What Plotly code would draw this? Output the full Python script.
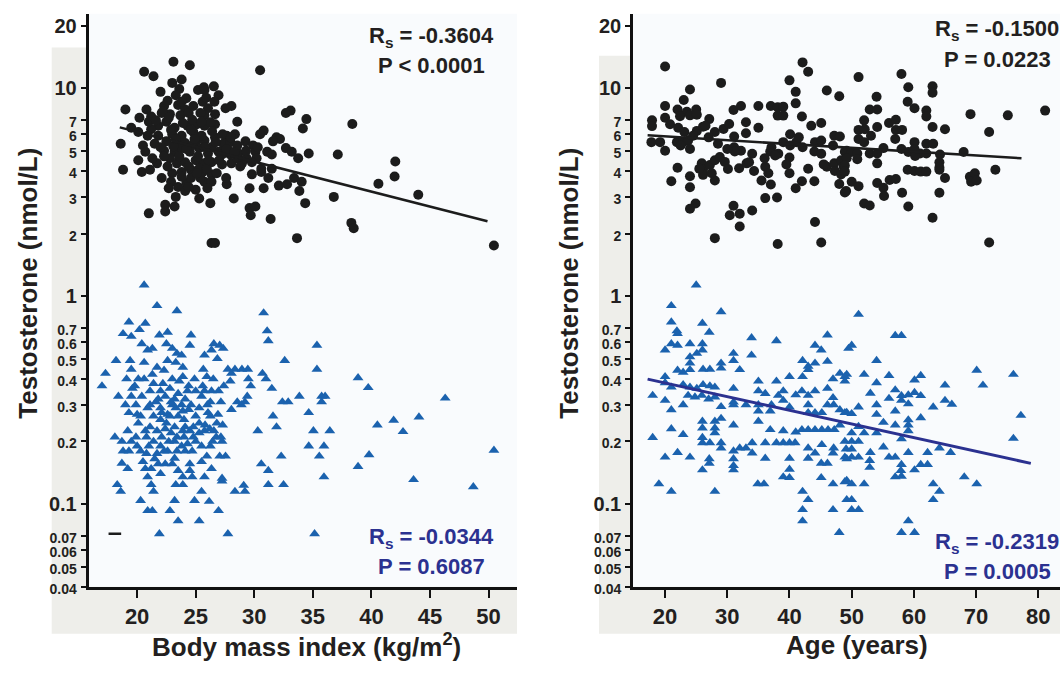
import plotly.graph_objects as go

# ---------------- data ----------------
# Left panel: BMI (kg/m2) vs testosterone (nmol/L); circles = upper group, triangles = lower group
bmi_circle_pts = [
    (23.1,13.4),(24.5,12.9),(20.6,12.0),(21.4,11.4),(30.5,12.2),(23.0,10.6),(23.8,11.0),(23.6,9.9),(25.2,9.8),(25.7,10.1),
    (25.75,9.8),(26.55,10.2),(26.95,9.25),(23.3,9.25),(24.2,8.95),(25.6,8.6),(22.3,8.2),(23.5,8.3),(24.1,7.9),(20.8,7.9),
    (19.0,7.9),(28.05,8.2),(27.55,8.0),(26.05,8.0),(33.1,7.8),(32.7,7.6),(34.45,7.1),(20.2,7.2),(21.2,7.3),(22.1,7.6),
    (22.8,7.5),(23.7,7.4),(24.4,7.6),(25.75,7.4),(26.65,7.5),(28.55,6.9),(22.5,6.9),(21.8,6.6),(19.5,6.45),(21.2,6.35),
    (23.2,6.45),(24.3,6.6),(25.1,6.7),(25.75,6.6),(26.65,6.7),(34.15,6.4),(30.8,6.25),(30.5,6.0),(31.9,5.8),(32.2,5.7),
    (18.6,5.4),(20.9,5.9),(21.8,5.9),(22.5,5.55),(23.4,5.6),(24.1,5.45),(25.0,5.55),(25.75,5.6),(26.65,5.8),(27.65,5.9),
    (28.35,6.0),(29.25,5.55),(29.9,5.3),(30.1,4.95),(31.1,4.95),(31.5,4.8),(32.7,5.15),(33.2,4.95),(33.75,4.6),(34.65,4.85),
    (20.7,4.95),(22.3,5.0),(23.2,4.95),(23.8,5.15),(24.5,4.95),(25.3,5.15),(26.05,4.85),(26.95,4.95),(27.85,5.0),(28.65,4.85),
    (29.35,4.6),(18.8,4.05),(20.4,3.95),(21.1,4.05),(21.7,4.35),(22.8,4.6),(23.4,4.35),(24.1,4.4),(25.0,4.5),(25.7,4.35),
    (26.35,4.4),(27.25,4.3),(28.05,4.35),(28.95,4.35),(29.8,3.85),(30.6,3.95),(31.5,4.1),(31.2,3.7),(32.1,3.4),(32.8,3.45),
    (33.4,3.7),(34.05,3.55),(34.35,2.8),(33.85,3.2),(23.0,3.9),(23.8,3.95),(24.6,4.05),(25.6,3.95),(26.35,3.85),(22.9,3.55),
    (23.5,3.35),(24.2,3.5),(25.0,3.25),(25.75,3.55),(26.35,3.55),(27.65,3.45),(29.6,3.3),(30.8,3.3),(24.1,3.2),(25.3,2.95),
    (26.25,2.8),(28.25,2.95),(22.4,2.75),(23.2,2.7),(22.4,2.55),(21.0,2.5),(29.6,2.65),(30.1,2.7),(29.7,2.45),(31.4,2.35),
    (26.35,1.8),(26.65,1.8),(33.65,1.9),
    (22.2,7.7),(22.7,7.2),(24.7,7.05),(25.4,7.6),(26.25,6.85),(24.8,6.15),(23.0,6.0),(23.8,5.9),(25.5,5.9),(27.35,5.4),
    (27.95,5.5),(28.55,5.3),(23.1,5.25),(24.7,5.3),(26.35,5.2),(27.25,4.8),(25.3,4.1),(25.95,4.1),(23.8,3.75),(24.6,3.7),
    (25.4,3.7),(21.5,5.4),(20.5,5.3),(20.1,6.15),(27.95,4.8),(28.55,4.6),(30.2,4.6),(30.3,5.2),(31.6,5.55),
    (37.13,4.80),(36.79,3.00),(38.29,2.25),(38.49,2.12),(40.6,3.47),(42.04,4.44),(41.98,3.76),(44.0,3.07),(50.46,1.75),(38.37,6.72),
    (21.0,6.9),(21.6,7.0),(22.0,5.2),(22.3,4.7),(22.6,4.2),(22.9,6.3),(23.3,5.7),(23.6,4.7),(23.9,6.8),(24.2,5.1),
    (24.4,4.2),(24.6,6.3),(24.9,5.7),(25.2,4.7),(25.5,6.9),(25.8,5.2),(26.1,4.5),(26.4,6.2),(26.7,5.5),(27.0,4.5),
    (27.3,6.0),(27.6,5.1),(28.0,5.8),(28.3,4.9),(22.1,3.7),(22.7,3.3),(23.3,3.0),(24.4,3.35),(25.1,3.9),(26.0,3.3),
    (26.8,3.9),(27.6,3.7),(21.3,4.6),(20.1,4.5),(23.8,8.6),(24.8,8.2),(22.6,8.7),(25.9,9.0),(26.6,8.6),(22.0,9.6),
    (28.8,4.2),(29.3,5.0),(29.8,4.4),(30.6,4.1),
]
bmi_triangle_pts = [
    (20.6,1.13),(21.7,.90),(23.4,.85),(30.8,.83),(19.3,.75),(20.7,.74),(20.2,.69),(18.8,.66),(19.5,.64),(21.9,.65),
    (22.6,.67),(24.6,.65),(24.5,.58),(22.5,.59),(20.4,.59),(20.9,.55),(21.3,.56),(23.0,.56),(23.4,.53),(23.8,.52),
    (25.75,.52),(26.55,.59),(27.05,.58),(26.35,.55),(27.35,.56),(26.85,.50),(31.1,.68),(31.2,.61),(35.35,.58),(32.6,.49),
    (35.35,.445),(18.2,.49),(19.4,.49),(20.6,.48),(21.7,.455),(22.6,.49),(23.3,.48),(23.9,.455),(25.65,.445),(25.95,.41),
    (27.75,.445),(28.35,.445),(28.95,.445),(29.45,.445),(28.05,.425),(29.5,.40),(29.7,.37),(27.95,.39),(30.7,.425),(31.0,.40),
    (31.5,.36),(17.3,.425),(17.0,.37),(19.1,.40),(20.1,.40),(20.6,.40),(19.5,.445),(21.4,.38),(22.2,.38),(23.0,.40),
    (23.9,.41),(24.4,.37),(25.0,.35),(25.75,.35),(26.35,.35),(26.95,.35),(25.5,.33),(29.4,.33),(29.2,.31),(28.9,.30),
    (28.05,.285),(28.55,.31),(27.15,.31),(26.25,.31),(32.4,.31),(32.9,.31),(33.85,.33),(35.75,.33),(36.05,.33),(35.75,.31),
    (34.65,.275),(18.4,.33),(19.5,.33),(19.9,.30),(19.3,.275),(20.3,.265),(21.1,.30),(21.8,.32),(22.4,.33),(23.2,.32),
    (23.8,.30),(23.0,.30),(21.4,.265),(22.1,.275),(22.8,.265),(23.5,.265),(24.4,.285),(25.0,.265),(24.0,.255),(26.05,.275),
    (26.25,.265),(25.3,.245),(31.6,.265),(31.9,.235),(30.3,.225),(20.1,.245),(19.2,.225),(18.1,.21),(18.7,.20),(19.5,.20),
    (20.7,.225),(21.1,.235),(21.7,.225),(20.8,.21),(21.4,.20),(22.1,.21),(22.7,.20),(23.2,.20),(24.0,.21),(24.5,.225),
    (24.8,.235),(25.75,.225),(26.55,.225),(26.75,.21),(27.15,.21),(26.45,.20),(27.25,.20),(26.25,.19),(35.05,.225),(36.45,.225),
    (34.65,.19),(35.95,.19),(18.8,.18),(19.3,.18),(20.3,.18),(20.8,.175),(21.7,.175),(22.6,.18),(23.2,.166),(23.4,.18),
    (24.1,.18),(24.7,.18),(25.95,.17),(27.05,.17),(27.55,.17),(32.3,.17),(35.55,.17),(18.7,.157),(19.2,.148),(20.7,.148),
    (21.8,.156),(22.4,.156),(23.0,.156),(24.5,.156),(24.5,.145),(26.35,.148),(30.6,.156),(31.2,.145),(20.9,.135),(23.9,.135),
    (24.7,.135),(25.75,.135),(27.25,.133),(18.3,.124),(18.6,.115),(21.2,.124),(21.4,.115),(23.3,.124),(23.9,.124),(25.5,.115),
    (27.25,.129),(29.1,.123),(28.35,.115),(29.2,.115),(31.2,.124),(32.5,.124),(35.95,.135),(20.3,.104),(20.9,.093),(21.3,.093),
    (23.2,.104),(22.8,.093),(24.9,.104),(26.15,.103),(26.95,.093),(23.5,.083),(25.3,.083),(21.9,.072),(27.75,.072),(35.15,.072),
    (19.8,.37),(21.1,.35),(22.0,.35),(22.8,.36),(23.5,.34),(24.1,.32),(22.0,.255),(22.5,.245),(23.2,.235),(24.1,.235),
    (19.9,.21),(25.5,.19),(23.8,.19),(25.0,.20),(22.3,.18),(21.2,.148),
    (38.86,.405),(39.73,.363),(40.51,.24),(41.9,.253),(42.7,.223),(44.06,.262),(46.3,.323),(39.8,.1725),(38.86,.1515),(43.6,.131),
    (48.7,.121),(50.46,.1815),
    (19.0,.30),(19.6,.36),(20.0,.27),(20.4,.33),(20.9,.29),(21.3,.42),(21.6,.31),(22.0,.29),(22.3,.44),(22.6,.27),
    (22.9,.31),(23.3,.29),(23.6,.39),(23.9,.28),(24.3,.35),(24.6,.30),(24.9,.40),(25.3,.29),(25.6,.37),(26.0,.30),
    (26.5,.40),(26.9,.27),(27.4,.37),(20.0,.19),(20.5,.16),(21.0,.19),(21.5,.165),(22.0,.19),(22.4,.23),(22.9,.22),
    (23.4,.21),(23.9,.225),(24.3,.195),(24.8,.21),(25.3,.22),(25.8,.24),(26.2,.23),(26.8,.245),(27.3,.24),(22.0,.14),
    (23.5,.145),(25.5,.16),
]
# Right panel: age (years) vs testosterone (nmol/L)
age_circle_pts = [
    (20.0,12.7),(29.0,10.6),(24.0,9.85),(23.0,8.77),(20.0,8.2),(22.0,7.9),(23.5,7.7),(25.0,7.9),(22.4,7.33),(24.0,7.4),
    (25.1,7.45),(20.0,7.2),(17.9,7.0),(17.9,6.57),(20.8,6.7),(22.1,6.45),(23.1,6.16),(25.1,6.23),(26.1,6.53),(27.1,7.1),
    (28.0,6.16),(29.4,6.37),(30.3,6.73),(31.0,7.85),(32.2,8.2),(33.0,6.86),(33.0,6.07),(35.0,8.2),(35.0,6.45),(37.0,8.2),
    (38.1,8.1),(39.0,8.15),(38.1,7.38),(39.0,7.38),(40.0,10.9),(41.0,9.6),(42.1,13.3),(43.0,12.0),(41.0,8.45),(42.0,7.3),
    (45.1,6.8),(46.0,9.75),(48.0,9.15),(17.8,5.5),(19.2,5.5),(20.0,5.0),(21.9,5.5),(22.9,5.5),(23.7,5.6),(24.0,5.1),
    (27.0,5.8),(31.1,5.85),(31.1,5.2),(32.2,5.0),(37.1,5.2),(38.2,4.84),(39.0,5.5),(40.1,6.0),(40.1,5.3),(41.1,5.5),
    (42.1,5.2),(40.0,4.64),(44.1,5.5),(45.1,5.6),(44.0,4.96),(45.1,4.84),(47.2,5.9),(48.1,5.85),(49.2,5.0),(22.0,4.14),
    (21.0,3.57),(24.0,3.77),(24.0,3.34),(25.9,4.35),(26.1,4.05),(27.2,4.27),(26.1,3.83),(28.0,4.5),(28.8,4.67),(29.6,4.42),
    (30.1,4.09),(28.0,3.6),(31.2,4.96),(31.9,4.12),(33.1,4.35),(34.0,4.84),(34.3,4.0),(36.1,4.19),(36.6,3.9),(37.0,3.44),
    (36.9,4.96),(37.7,4.75),(36.1,2.96),(38.0,2.98),(40.0,3.9),(42.0,3.57),(41.0,3.3),(44.0,3.57),(46.0,4.19),(47.2,4.35),
    (48.3,4.5),(48.0,3.46),(49.1,3.2),(24.9,2.79),(24.0,2.63),(31.0,2.72),(30.4,2.45),(32.0,2.49),(34.0,2.58),(32.0,2.16),
    (28.0,1.9),(38.1,1.78),(44.1,2.27),(45.1,1.81),
    (22.5,5.3),(24.5,5.9),(26.5,6.6),(28.5,5.4),(30.0,5.1),(33.5,4.4),(36.0,4.6),(39.5,4.3),(43.0,4.1),(45.5,4.3),
    (47.0,5.3),(25.5,4.1),(27.5,3.9),(35.5,3.6),(41.5,5.8),(43.5,6.6),(47.3,4.0),(48.7,4.2),(48.3,3.85),
    (51.1,11.3),(58.0,11.7),(59.1,10.1),(63.0,10.2),(63.0,9.5),(54.0,9.1),(59.0,8.6),(60.1,8.0),(52.9,7.9),(54.1,7.9),
    (62.0,7.8),(62.0,7.3),(69.1,7.5),(75.1,7.4),(81.1,7.8),(52.0,7.0),(56.0,6.8),(57.1,7.05),(51.1,6.3),(52.1,6.35),
    (54.1,6.5),(57.1,6.3),(58.1,6.3),(63.0,6.5),(65.0,6.35),(72.1,6.15),(53.1,5.9),(51.1,5.7),(52.0,5.5),(57.0,5.7),
    (60.1,5.5),(62.0,5.4),(63.1,5.4),(55.1,5.15),(58.0,5.1),(59.1,4.93),(60.1,5.1),(61.0,4.85),(62.0,4.85),(60.2,4.72),
    (64.2,4.8),(68.0,4.93),(48.9,4.95),(50.0,4.93),(50.9,4.85),(49.2,4.6),(50.9,4.55),(52.9,4.85),(54.1,4.85),(54.1,4.35),
    (64.1,4.4),(64.1,4.15),(48.9,4.25),(48.9,3.97),(59.0,4.05),(60.1,4.0),(61.1,3.97),(62.0,3.97),(64.1,4.05),(73.1,4.05),
    (65.0,3.70),(69.0,3.75),(69.8,3.9),(69.2,3.55),(70.1,3.6),(50.0,3.55),(51.1,3.38),(48.9,3.15),(56.1,3.62),(57.1,3.66),
    (54.1,3.5),(55.1,3.32),(55.2,3.03),(58.1,3.14),(64.1,3.14),(52.0,2.79),(52.9,2.73),(59.1,2.7),(63.0,2.38),(72.1,1.81),
]
age_triangle_pts = [
    (25.0,1.13),(21.0,.90),(29.0,.84),(21.0,.75),(26.0,.74),(21.9,.68),(22.0,.66),(27.1,.67),(33.9,.63),(37.9,.61),
    (46.1,.65),(21.0,.59),(22.0,.58),(20.0,.55),(24.0,.59),(26.0,.59),(26.0,.55),(25.1,.53),(24.0,.51),(31.0,.53),
    (33.9,.52),(44.1,.58),(45.1,.55),(49.5,.56),(24.0,.476),(24.0,.443),(29.0,.476),(29.0,.45),(31.0,.49),(32.0,.443),
    (26.1,.445),(27.2,.445),(22.9,.43),(22.0,.44),(20.0,.41),(42.1,.49),(43.0,.443),(43.0,.46),(44.1,.476),(46.1,.485),
    (42.1,.41),(40.0,.41),(37.9,.39),(35.0,.39),(47.0,.40),(48.1,.425),(49.2,.42),(20.0,.383),(21.0,.365),(22.9,.375),
    (24.0,.365),(25.1,.36),(26.1,.375),(27.2,.37),(28.0,.365),(31.0,.36),(18.0,.333),(20.0,.315),(21.0,.284),(22.9,.30),
    (23.7,.333),(24.8,.327),(25.9,.333),(27.0,.32),(28.0,.327),(29.0,.294),(31.0,.309),(31.0,.30),(33.0,.30),(35.0,.30),
    (35.0,.35),(36.1,.34),(37.1,.30),(36.9,.28),(38.2,.333),(39.0,.35),(39.0,.315),(40.0,.293),(41.0,.335),(42.0,.35),
    (43.0,.333),(44.1,.35),(43.0,.30),(43.0,.275),(44.1,.275),(45.2,.275),(46.1,.36),(47.0,.325),(46.1,.30),(47.1,.30),
    (48.1,.284),(49.2,.276),(18.0,.209),(21.0,.23),(22.9,.216),(20.0,.168),(22.0,.177),(24.0,.168),(26.0,.25),(26.0,.232),
    (26.0,.209),(26.0,.197),(27.2,.197),(28.0,.25),(28.0,.232),(28.0,.22),(29.0,.258),(29.0,.197),(29.0,.186),(31.0,.24),
    (31.0,.18),(31.0,.165),(31.0,.153),(31.0,.146),(32.0,.186),(33.0,.186),(34.0,.197),(34.0,.176),(35.0,.25),(35.0,.28),
    (36.1,.197),(36.1,.166),(36.9,.228),(37.9,.197),(39.0,.225),(39.0,.197),(40.0,.197),(40.9,.197),(41.0,.222),(42.0,.228),
    (43.0,.228),(44.1,.228),(45.2,.228),(46.2,.228),(47.2,.228),(48.1,.24),(43.0,.186),(43.0,.166),(44.1,.176),(45.2,.193),
    (47.1,.186),(47.0,.176),(46.1,.157),(45.1,.157),(49.2,.165),(49.1,.184),(27.1,.165),(27.1,.157),(26.0,.146),(40.0,.166),
    (40.0,.147),(39.0,.135),(40.0,.134),(45.1,.134),(47.0,.125),(49.2,.13),(19.0,.125),(21.0,.115),(28.0,.115),(34.9,.125),
    (35.9,.125),(42.1,.115),(43.0,.105),(42.1,.094),(42.1,.083),(47.0,.094),(49.2,.105),(48.0,.073),
    (51.1,.816),(57.0,.646),(58.0,.646),(50.0,.58),(54.0,.49),(48.9,.41),(48.9,.39),(52.0,.42),(56.0,.415),(61.1,.415),
    (60.1,.395),(65.0,.373),(70.1,.44),(76.0,.42),(71.1,.373),(54.0,.383),(53.0,.341),(57.0,.354),(56.0,.322),(58.0,.332),
    (59.1,.335),(60.1,.344),(61.1,.332),(59.1,.303),(58.0,.315),(65.0,.315),(66.1,.302),(63.1,.293),(51.1,.293),(54.0,.30),
    (54.0,.27),(57.0,.28),(61.1,.26),(77.2,.267),(48.9,.275),(50.0,.272),(59.1,.254),(59.1,.24),(55.1,.247),(57.0,.24),
    (51.1,.236),(52.0,.22),(54.0,.22),(59.1,.225),(58.0,.206),(50.0,.22),(48.9,.2),(50.0,.2),(51.1,.2),(50.0,.184),
    (50.0,.168),(51.1,.168),(48.9,.168),(55.1,.188),(53.0,.177),(56.0,.168),(57.0,.168),(59.1,.177),(62.2,.177),(64.1,.186),
    (65.9,.177),(76.0,.207),(52.9,.162),(52.9,.15),(58.0,.155),(57.9,.145),(58.0,.136),(57.0,.135),(61.1,.155),(62.2,.155),
    (60.1,.146),(68.1,.135),(70.1,.125),(48.9,.128),(50.0,.125),(52.0,.125),(63.1,.125),(64.1,.115),(63.1,.105),(50.0,.105),
    (50.0,.094),(51.1,.094),(59.1,.083),(58.0,.073),(60.1,.073),
]
# fitted lines (end points)
bmi_fit_circle_x = [18.52, 49.91]
bmi_fit_circle_y = [6.48, 2.29]
age_fit_circle_x = [17.19, 77.3]
age_fit_circle_y = [5.93, 4.60]
age_fit_triangle_x = [17.19, 78.8]
age_fit_triangle_y = [0.399, 0.157]
# stray dash mark in left panel
dash_x = [18.1]
dash_y = [0.072]

# statistics text
stats_left_top = ["R<sub>s</sub> = -0.3604", "P < 0.0001"]
stats_left_bottom = ["R<sub>s</sub> = -0.0344", "P = 0.6087"]
stats_right_top = ["R<sub>s</sub> = -0.1500", "P = 0.0223"]
stats_right_bottom = ["R<sub>s</sub> = -0.2319", "P = 0.0005"]

# ticks
bmi_ticks = [20, 25, 30, 35, 40, 45, 50]
age_ticks = [20, 30, 40, 50, 60, 70, 80]
y_tickvals = [0.04, 0.05, 0.06, 0.07, 0.1, 0.2, 0.3, 0.4, 0.5, 0.6, 0.7, 1, 2, 3, 4, 5, 6, 7, 10, 20]
y_major = ["20", "10", "1", "0.1"]

# ---------------- styling ----------------
W, H = 1060, 673
BLACK = "#1c1c1c"
BLUE = "#1b62ae"
NAVY = "#2b3190"
TXT = "#231f20"
SANS = "Liberation Sans"

def px_x(p):
    return p / W

def px_y(p):
    return 1 - p / H

def ylab(v):
    s = "%g" % v
    if s in y_major:
        return s
    return '<span style="font-size:14px">%s</span>' % s

y_ticktext = [ylab(v) for v in y_tickvals]

fig = go.Figure()

def unzip(pts):
    return [p[0] for p in pts], [p[1] for p in pts]

bx, by = unzip(bmi_circle_pts)
tx, ty = unzip(bmi_triangle_pts)
ax_, ay_ = unzip(age_circle_pts)
atx, aty = unzip(age_triangle_pts)

circ = dict(symbol="circle", size=10, color=BLACK, line=dict(width=0))
tri = dict(symbol="triangle-up", size=9.5, color=BLUE, line=dict(width=0))

fig.add_trace(go.Scatter(x=tx, y=ty, mode="markers", marker=tri, xaxis="x", yaxis="y", showlegend=False))
fig.add_trace(go.Scatter(x=bx, y=by, mode="markers", marker=circ, xaxis="x", yaxis="y", showlegend=False))
fig.add_trace(go.Scatter(x=dash_x, y=dash_y, mode="markers",
                         marker=dict(symbol="line-ew", size=9, line=dict(width=2.5, color=BLACK)),
                         xaxis="x", yaxis="y", showlegend=False))
fig.add_trace(go.Scatter(x=bmi_fit_circle_x, y=bmi_fit_circle_y, mode="lines",
                         line=dict(color=BLACK, width=2.5), xaxis="x", yaxis="y", showlegend=False))

fig.add_trace(go.Scatter(x=atx, y=aty, mode="markers", marker=tri, xaxis="x2", yaxis="y2", showlegend=False))
fig.add_trace(go.Scatter(x=ax_, y=ay_, mode="markers", marker=circ, xaxis="x2", yaxis="y2", showlegend=False))
fig.add_trace(go.Scatter(x=age_fit_circle_x, y=age_fit_circle_y, mode="lines",
                         line=dict(color=BLACK, width=2.5), xaxis="x2", yaxis="y2", showlegend=False))
fig.add_trace(go.Scatter(x=age_fit_triangle_x, y=age_fit_triangle_y, mode="lines",
                         line=dict(color=NAVY, width=3), xaxis="x2", yaxis="y2", showlegend=False))

axis_common = dict(showline=True, linecolor="#111111", linewidth=2.5, ticks="outside", tickcolor="#111111",
                   showgrid=False, zeroline=False, mirror=False)
xfont = dict(family=SANS, size=22, color=TXT, weight="bold")
yfont = dict(family=SANS, size=20, color=TXT, weight="bold")

ydom = [px_y(595.7), px_y(14)]
YR = [-1.39794, 1.3576]   # axis runs from 0.04 up to ~22.8

fig.update_layout(
    width=W, height=H, margin=dict(l=0, r=0, t=0, b=0),
    paper_bgcolor="white", plot_bgcolor="rgba(0,0,0,0)",
    xaxis=dict(domain=[px_x(88.5), px_x(517)], range=[15.85, 52.43], anchor="y",
               tickvals=bmi_ticks, ticktext=[str(v) for v in bmi_ticks], ticklen=8, tickwidth=2,
               tickfont=xfont, **axis_common),
    yaxis=dict(domain=ydom, type="log", range=YR, anchor="x",
               tickvals=y_tickvals, ticktext=y_ticktext, ticklen=5, tickwidth=1.5,
               tickfont=yfont, **axis_common),
    xaxis2=dict(domain=[px_x(633), 1.0], range=[14.84, 83.49], anchor="y2",
                tickvals=age_ticks, ticktext=[str(v) for v in age_ticks], ticklen=8, tickwidth=2,
                tickfont=xfont, **axis_common),
    yaxis2=dict(domain=ydom, type="log", range=YR, anchor="x2",
                tickvals=y_tickvals, ticktext=y_ticktext, ticklen=5, tickwidth=1.5,
                tickfont=yfont, **axis_common),
)

GRAY = "#eeeeea"
PLOTBG = "#f9fbfd"
shapes = [
    dict(type="rect", xref="paper", yref="paper", x0=px_x(51.7), x1=px_x(517), y0=px_y(643.3), y1=px_y(48.3),
         fillcolor=GRAY, line=dict(width=0), layer="below"),
    dict(type="rect", xref="paper", yref="paper", x0=px_x(599), x1=1.0, y0=px_y(643.3), y1=px_y(56.7),
         fillcolor=GRAY, line=dict(width=0), layer="below"),
    dict(type="rect", xref="paper", yref="paper", x0=px_x(88.5), x1=px_x(517), y0=ydom[0], y1=ydom[1],
         fillcolor=PLOTBG, line=dict(width=0), layer="below"),
    dict(type="rect", xref="paper", yref="paper", x0=px_x(633), x1=1.0, y0=ydom[0], y1=ydom[1],
         fillcolor=PLOTBG, line=dict(width=0), layer="below"),
]
fig.update_layout(shapes=shapes)

ann = []
def add_text(text, x, y, size, color, angle=0):
    ann.append(dict(text=text, x=px_x(x), y=px_y(y), xref="paper", yref="paper", showarrow=False,
                    xanchor="center", yanchor="middle", textangle=angle,
                    font=dict(family=SANS, size=size, color=color, weight="bold")))

# axis titles
add_text("Testosterone (nmol/L)", 28, 288, 26, TXT, -90)
add_text("Testosterone (nmol/L)", 569, 288, 26, TXT, -90)
add_text("Body mass index (kg/m<sup>2</sup>)", 306, 655, 26, TXT)
add_text("Age (years)", 857, 655, 26, TXT)

# statistics
stat_pos = [
    (stats_left_top, 431.5, 37.5, 66.7, TXT),
    (stats_left_bottom, 431.5, 545.8, 575, NAVY),
    (stats_right_top, 997, 30.8, 60, TXT),
    (stats_right_bottom, 997, 550.8, 580, NAVY),
]
for lines, x, yr, yp, col in stat_pos:
    add_text(lines[0], x, yr, 22, col)
    add_text(lines[1], x, yp, 22, col)

fig.update_layout(annotations=ann)
# remove the default 8px page margin so the 1060x673 figure fills the window exactly
fig.write_html("out.html", config={"displayModeBar": False},
               post_script="document.body.style.margin='0';document.body.style.overflow='hidden';")
